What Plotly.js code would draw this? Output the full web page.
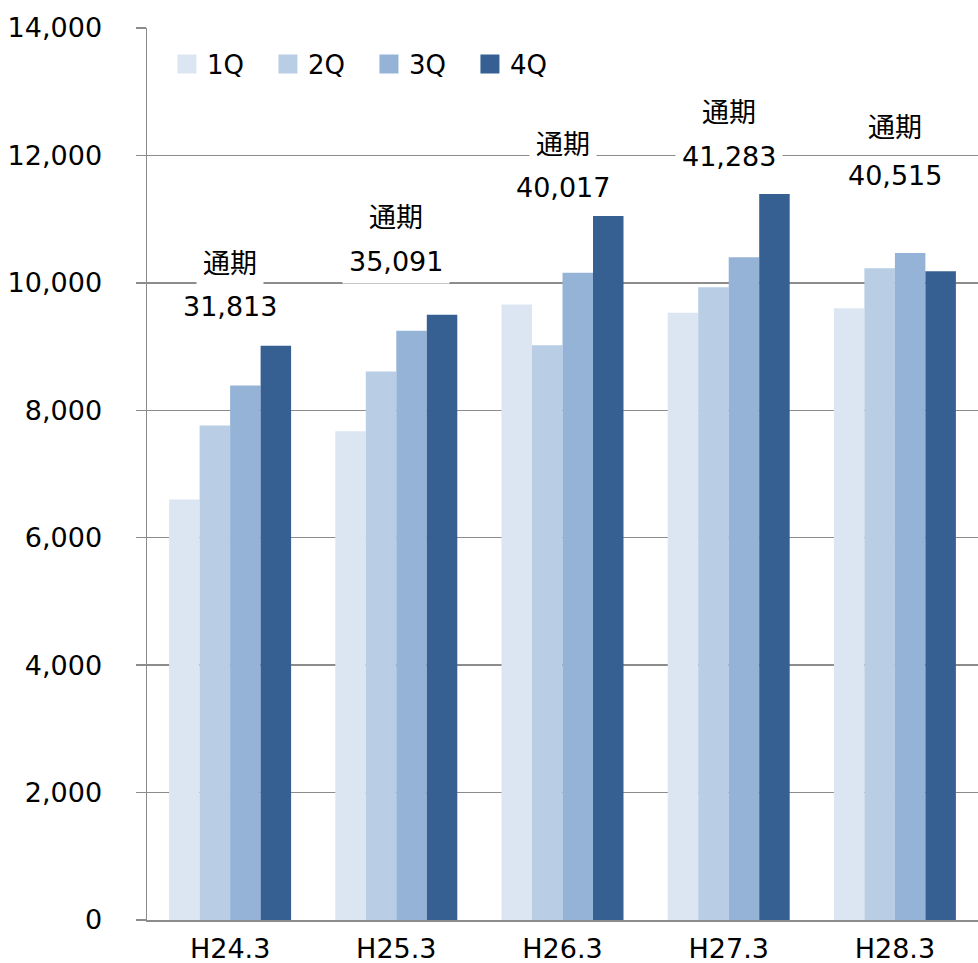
<!DOCTYPE html>
<html>
<head>
<meta charset="utf-8">
<script src="https://cdn.plot.ly/plotly-3.0.1.min.js"></script>
<style>html,body{margin:0;padding:0;background:#fff;}#chart{width:978px;height:963px;}</style>
</head>
<body>
<div id="chart"></div>
<script>
const categories = ['H24.3', 'H25.3', 'H26.3', 'H27.3', 'H28.3'];
const seriesNames = ['1Q', '2Q', '3Q', '4Q'];
const q1 = [6600, 7670, 9660, 9530, 9600];
const q2 = [7760, 8610, 9020, 9930, 10230];
const q3 = [8390, 9250, 10160, 10400, 10470];
const q4 = [9013, 9501, 11050, 11393, 10181];
const totals = [31813, 35091, 40017, 41283, 40515];
const totalLabel = '通期';

const colors = ['#DCE6F2', '#B9CDE5', '#95B3D7', '#376092'];
const FONT = 'DejaVu Sans, Verdana, "Noto Sans CJK JP", sans-serif';
const FS = 27;

const seriesValues = [q1, q2, q3, q4];
const traces = seriesValues.map((vals, i) => ({
  type: 'bar',
  name: seriesNames[i],
  x: categories,
  y: vals,
  marker: {color: colors[i], line: {width: 0}},
  hoverinfo: 'x+y+name'
}));

// pixel offsets of the two label lines above the tallest bar of each group
const titleShift = [82, 97, 71, 82, 125];
const numShift = [39, 53, 28, 38, 77];
const annotations = [];
categories.forEach((c, i) => {
  const top = Math.max(q1[i], q2[i], q3[i], q4[i]);
  const bg = i < 4 ? '#ffffff' : 'rgba(0,0,0,0)';
  annotations.push({
    x: c, y: top, xref: 'x', yref: 'y', yanchor: 'middle',
    yshift: titleShift[i], showarrow: false, text: totalLabel,
    font: {family: FONT, size: FS, color: '#000'}, bgcolor: bg, borderpad: 6
  });
  annotations.push({
    x: c, y: top, xref: 'x', yref: 'y', yanchor: 'middle',
    yshift: numShift[i], showarrow: false, text: totals[i].toLocaleString('en-US'),
    font: {family: FONT, size: FS, color: '#000'}, bgcolor: bg, borderpad: 6
  });
});

const layout = {
  width: 978, height: 963,
  margin: {l: 147, r: 0, t: 28, b: 43, pad: 0},
  paper_bgcolor: '#fff', plot_bgcolor: '#fff',
  font: {family: FONT, size: FS, color: '#000'},
  barmode: 'group', bargap: 0.266, bargroupgap: 0,
  showlegend: true,
  legend: {
    orientation: 'h', x: 0.024, y: 0.986, xanchor: 'left', yanchor: 'top',
    bgcolor: 'rgba(0,0,0,0)', font: {family: FONT, size: 26, color: '#000'},
    entrywidth: 56, entrywidthmode: 'pixels', itemwidth: 30, traceorder: 'normal'
  },
  xaxis: {
    type: 'category', range: [-0.5, 4.5], showgrid: false,
    showline: true, linecolor: '#8c8c8c', linewidth: 1.5,
    ticks: '', tickfont: {family: FONT, size: FS, color: '#000'},
    ticklabelstandoff: 4, fixedrange: true
  },
  yaxis: {
    range: [0, 14000], dtick: 2000, tickformat: ',d',
    showgrid: true, gridcolor: '#8c8c8c', gridwidth: 1.5,
    zeroline: false, showline: true, linecolor: '#8c8c8c', linewidth: 1.5,
    ticks: 'outside', ticklen: 10, tickcolor: '#8c8c8c', tickwidth: 1.5,
    tickfont: {family: FONT, size: FS, color: '#000'},
    ticklabelstandoff: 28, fixedrange: true
  },
  annotations: annotations
};

Plotly.newPlot('chart', traces, layout, {displayModeBar: false, staticPlot: true}).then(() => {
  document.querySelectorAll('.legendpoints path').forEach(p => {
    p.setAttribute('d', 'M9.5,9.5H-9.5V-9.5H9.5Z');
  });
});
</script>
</body>
</html>
